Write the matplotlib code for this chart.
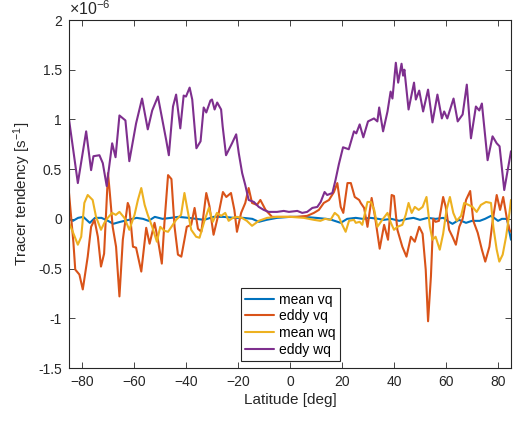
import numpy as np
import matplotlib
matplotlib.use('Agg')
import matplotlib.pyplot as plt
from matplotlib.ticker import FormatStrFormatter

# Werte in Einheiten von 1e-6 s^-1
lat_mean_vq = [-85, -83.5, -81.5, -79.5, -77, -75, -72.5, -70, -68, -65.3, -62, -59,
               -56.5, -54.4, -52, -49, -45.8, -42.9, -39, -36, -33, -29.4, -25.5,
               -21.5, -18, -14.5, -12, -9, -5, 0, 5, 10, 14, 16, 19.5, 22, 25.3, 28,
               31, 34, 36, 39, 42, 45, 47.5, 50, 53, 56, 59, 60.5, 62.5, 65, 67.7,
               70, 73, 75, 77.3, 78.5, 80, 81.5, 83.5, 84.3, 85]
mean_vq = [0.0, -0.02, 0.01, 0.02, -0.04, 0.01, 0.01, -0.02, -0.05, -0.03, -0.01, 0.01,
           0.0, -0.02, 0.02, 0.0, 0.01, 0.02, 0.01, 0.0, -0.01, 0.02, 0.02,
           0.01, 0.01, 0.0, -0.03, -0.01, 0.01, 0.02, 0.02, 0.01, 0.0, -0.01, -0.04,
           0.0, 0.01, 0.0, 0.01, 0.0, -0.01, 0.0, -0.02, 0.0, 0.01, -0.01, 0.01,
           0.0, 0.01, -0.02, -0.05, -0.01, -0.04, -0.02, -0.02, 0.0, 0.03, 0.01,
           -0.02, 0.0, 0.0, -0.12, -0.21]

lat_eddy_vq = [-85, -83.3, -82.6, -81, -79.7, -77.8, -76.5, -75.2, -73.9, -72.7, -71.5,
               -70, -69.3, -68.2, -66.9, -65.6, -64.3, -62.4, -61.8, -60.4, -59.2,
               -57.2, -55.3, -54, -52.1, -50.8, -49.3, -48.3, -46.9, -45.6, -44.4,
               -43.1, -41.8, -40.6, -39.7, -38, -36.7, -35.4, -34.1, -32.2, -31,
               -29.4, -27.4, -25.8, -24.5, -22.7, -21.4, -20.4, -18.8, -17.2, -15.9,
               -14.6, -12.7, -11.4, -9.4, -6.9, -2.4, 2.7, 6.6, 9.2, 11.1, 13, 15,
               16.9, 18.2, 19.5, 20.5, 22.1, 23.4, 24.9, 26.6, 27.2, 28.5, 29.8, 31.4,
               32.7, 34.5, 36.2, 37.7, 39.1, 40, 41.3, 43.2, 44.8, 46.5, 48, 49.7, 51,
               52.2, 53.1, 54.2, 55.1, 56, 57.3, 58.9, 59.9, 61.2, 62.5, 63.8, 65.1,
               66.4, 67.7, 69.3, 70.5, 72.2, 73.8, 75.1, 76.7, 78, 79.5, 80.8, 82,
               83.3, 84.4, 85]
eddy_vq = [0.26, -0.24, -0.51, -0.56, -0.71, -0.38, -0.08, -0.01, -0.18, -0.48, -0.35,
           0.46, 0.26, -0.08, -0.28, -0.78, -0.21, 0.16, 0.12, -0.28, -0.29,
           -0.53, -0.09, -0.25, -0.04, -0.21, -0.45, -0.04, 0.44, 0.40, -0.08,
           -0.36, -0.38, -0.21, -0.08, -0.06, 0.11, -0.10, -0.13, 0.26, 0.13,
           -0.16, 0.06, 0.27, 0.22, 0.26, 0.09, -0.13, 0.06, 0.16, 0.31,
           0.16, 0.14, 0.19, 0.09, 0.02, 0.02, 0.02, 0.03, 0.06, 0.09, 0.16, 0.19,
           0.27, 0.36, 0.12, 0.06, 0.36, 0.36, 0.22, 0.19, 0.16, 0.11, -0.08, 0.21,
           0.02, -0.30, -0.06, -0.21, 0.24, 0.23, -0.11, -0.28, -0.38, -0.18, -0.23,
           -0.08, -0.15, -0.51, -1.03, -0.58, 0.0, -0.03, -0.02, 0.22, 0.12, -0.11,
           -0.18, -0.26, -0.08, 0.0, 0.19, 0.28, -0.02, -0.14, -0.31, -0.43, -0.28,
           -0.01, 0.24, 0.09, 0.22, 0.02, -0.11, -0.13]

lat_mean_wq = [-85, -83.7, -81.6, -80.3, -79.1, -77.8, -75.9, -74.6, -72.7, -71.4, -70.1,
               -68.4, -67, -65.6, -63.7, -61.8, -59.8, -58.5, -57.2, -55.9, -54.7, -53,
               -51.2, -49.9, -48.3, -46.9, -45.6, -43.8, -41.9, -40.6, -39.7, -38,
               -36.1, -34.8, -32.9, -31.2, -29.7, -28.1, -26.5, -24.9, -23.6, -22,
               -20.4, -18.5, -16.6, -14.6, -12, -8.8, -5, 0.2, 5.3, 9.2, 11.7, 13.5,
               15.6, 17.2, 18.6, 20.1, 21.4, 22.7, 24.6, 25.3, 26.8, 27.8, 29.8, 31.1,
               32.4, 33.6, 35.5, 37.5, 38.8, 40, 41.3, 43.2, 44.5, 45.6, 46.8, 48,
               49.5, 51, 52.5, 53.8, 54.8, 56, 57.6, 58.9, 60.2, 61.5, 62.8, 64.1,
               65.8, 67, 68.7, 70.2, 71.8, 73.4, 75.4, 77.3, 78.2, 79.5, 80.5, 81.8,
               83.1, 84.4, 85]
mean_wq = [-0.04, -0.12, -0.26, -0.18, 0.16, 0.24, 0.19, 0.02, -0.11, -0.04, 0.01,
           0.06, 0.04, 0.07, 0.01, -0.11, 0.04, 0.19, 0.31, 0.14, 0.04, -0.08,
           -0.23, -0.08, -0.12, -0.13, -0.08, -0.01, 0.04, 0.26, 0.13, -0.11,
           -0.18, -0.19, -0.02, 0.11, -0.03, 0.06, 0.03, 0.06, -0.02, 0.01,
           0.02, 0.01, -0.02, -0.07, -0.02, 0.01, 0.02, 0.02, 0.01, -0.01, -0.02, 0.0,
           -0.01, 0.06, 0.03, -0.06, -0.13, -0.02, -0.01, -0.04, -0.03, -0.06, 0.17, 0.17,
           0.09, -0.08, -0.01, 0.06, -0.04, -0.11, -0.08, -0.06, 0.04, 0.16, 0.06, 0.12,
           0.09, 0.12, 0.22, -0.08, -0.21, -0.18, -0.31, -0.15, 0.09, 0.22, 0.06, -0.02,
           0.03, 0.16, 0.14, 0.12, 0.07, 0.14, 0.17, 0.16, -0.08, -0.31, -0.43, -0.36,
           -0.18, 0.06, 0.19]

lat_eddy_wq = [-85, -81.6, -78.4, -76.5, -75.6, -73.3, -72, -70.5, -68.4, -67.1, -65.6,
               -63.3, -61.8, -59.2, -56.9, -54.7, -53, -50.8, -47.6, -46.6, -45, -43.8,
               -42.2, -40.9, -40, -38.6, -37.6, -36, -34.4, -33.2, -32.2, -30.6, -30,
               -29, -28, -26.5, -25.9, -24.6, -22.3, -20.7, -19.7, -18.4, -17.2, -15.9,
               -13.9, -12, -10.1, -8.2, -5, -2.4, -0.4, 2.8, 4.7, 6.6, 8.6, 10.5, 11.8,
               13.3, 14.3, 16.3, 17.5, 18.8, 20.4, 22.6, 24.6, 25.5, 26.8, 28.2, 30,
               32.3, 33.6, 34.3, 35.8, 37.5, 38.7, 39.4, 40.7, 41.6, 42.9, 43.5, 44,
               45.6, 47.7, 48.4, 49.7, 51.2, 53.1, 54.8, 56.7, 58.4, 59.3, 60.5, 62.9,
               64.5, 66.4, 68, 69.6, 71.5, 72.8, 73.8, 76, 77.9, 79.5, 80.6, 82.4, 85]
eddy_wq = [1.00, 0.36, 0.88, 0.49, 0.63, 0.64, 0.56, 0.33, 0.76, 0.62, 1.04,
           0.99, 0.58, 0.96, 1.21, 0.90, 1.09, 1.23, 0.79, 0.64, 1.13, 1.25,
           0.91, 1.24, 1.23, 1.32, 1.20, 0.71, 0.78, 1.12, 1.07, 1.19, 1.20,
           1.10, 1.17, 1.10, 0.93, 0.64, 0.76, 0.85, 0.66, 0.46, 0.34, 0.19,
           0.17, 0.12, 0.09, 0.07, 0.07, 0.08, 0.07, 0.08, 0.06, 0.07, 0.11, 0.12, 0.17,
           0.27, 0.24, 0.26, 0.39, 0.55, 0.72, 0.70, 0.88, 0.86, 0.95, 0.82, 0.98,
           1.01, 0.98, 1.12, 0.88, 1.08, 1.28, 1.21, 1.57, 1.37, 1.56, 1.44, 1.50,
           1.10, 1.37, 1.20, 1.29, 1.08, 1.30, 0.97, 1.25, 1.01, 1.08, 1.01, 1.21,
           0.98, 1.05, 1.35, 0.81, 1.13, 1.09, 1.16, 0.59, 0.83, 0.76, 0.73, 0.29, 0.68]

labels = ['mean vq', 'eddy vq', 'mean wq', 'eddy wq']
colors = ['#0072BD', '#D95319', '#EDB120', '#7E2F8E']

plt.rcParams['font.family'] = ['Liberation Sans', 'DejaVu Sans']
plt.rcParams['mathtext.default'] = 'regular'
axcol = '#262626'

fig = plt.figure(figsize=(5.18, 4.22), dpi=100)
ax = fig.add_axes([69/518, 1 - 368/422, 442/518, 348/422])

series = [(lat_mean_vq, mean_vq), (lat_eddy_vq, eddy_vq),
          (lat_mean_wq, mean_wq), (lat_eddy_wq, eddy_wq)]
for (x, y), lab, c in zip(series, labels, colors):
    ax.plot(x, y, color=c, linewidth=1.5, label=lab,
            solid_joinstyle='round', solid_capstyle='round')

ax.set_xlim(-85, 85)
ax.set_ylim(-1.5, 2)
ax.set_xticks(np.arange(-80, 81, 20))
ax.set_yticks(np.arange(-1.5, 2.01, 0.5))
ax.yaxis.set_major_formatter(FormatStrFormatter('%g'))
ax.tick_params(direction='in', top=True, right=True, length=4, width=0.6,
               colors=axcol, labelsize=10, pad=5)
for s in ax.spines.values():
    s.set_color(axcol)
    s.set_linewidth(0.8)

ax.set_xlabel('Latitude [deg]', fontsize=11, color=axcol, labelpad=3)
ax.set_ylabel('Tracer tendency [s$^{-1}$]', fontsize=11, color=axcol, labelpad=4)
ax.text(0.0, 1.006, r'$\times10^{-6}$', transform=ax.transAxes, fontsize=11.5,
        color=axcol, ha='left', va='bottom')

leg = ax.legend(loc='lower left', bbox_to_anchor=(0.389, 0.02), fontsize=10,
                frameon=True, fancybox=False, framealpha=1, edgecolor=axcol,
                handlelength=2.1, handletextpad=0.35, labelspacing=0.2,
                borderpad=0.3, borderaxespad=0)
leg.get_frame().set_linewidth(0.8)

plt.savefig('out.png', dpi=100)
